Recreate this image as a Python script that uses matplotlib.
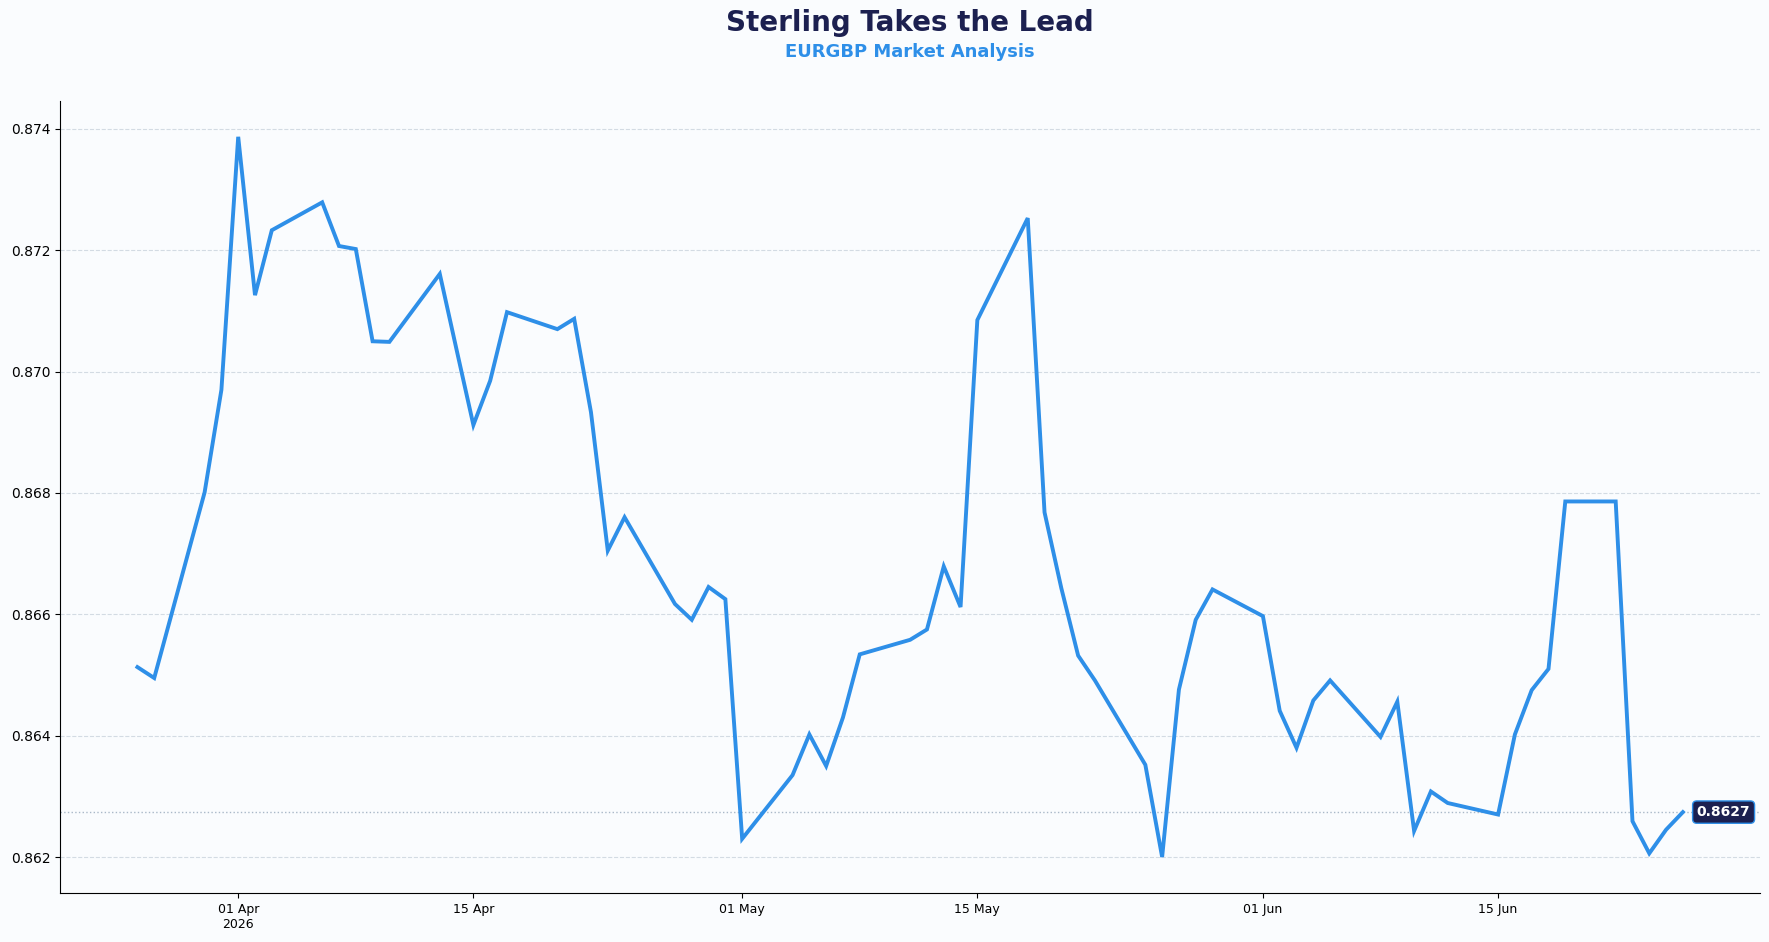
import numpy as np
import pandas as pd
import matplotlib
matplotlib.use('Agg')
import matplotlib.pyplot as plt
import matplotlib.dates as mdates
from matplotlib.ticker import FuncFormatter

#EURGBP daily closes (business days)
dates = ['2026-03-26', '2026-03-27', '2026-03-30', '2026-03-31', '2026-04-01', '2026-04-02', '2026-04-03',
         '2026-04-06', '2026-04-07', '2026-04-08', '2026-04-09', '2026-04-10',
         '2026-04-13', '2026-04-14', '2026-04-15', '2026-04-16', '2026-04-17',
         '2026-04-20', '2026-04-21', '2026-04-22', '2026-04-23', '2026-04-24',
         '2026-04-27', '2026-04-28', '2026-04-29', '2026-04-30', '2026-05-01',
         '2026-05-04', '2026-05-05', '2026-05-06', '2026-05-07', '2026-05-08',
         '2026-05-11', '2026-05-12', '2026-05-13', '2026-05-14', '2026-05-15',
         '2026-05-18', '2026-05-19', '2026-05-20', '2026-05-21', '2026-05-22',
         '2026-05-25', '2026-05-26', '2026-05-27', '2026-05-28', '2026-05-29',
         '2026-06-01', '2026-06-02', '2026-06-03', '2026-06-04', '2026-06-05',
         '2026-06-08', '2026-06-09', '2026-06-10', '2026-06-11', '2026-06-12',
         '2026-06-15', '2026-06-16', '2026-06-17', '2026-06-18', '2026-06-19',
         '2026-06-22', '2026-06-23', '2026-06-24', '2026-06-25', '2026-06-26']
rates = [0.86513, 0.86495, 0.86801, 0.86970, 0.87387, 0.87126, 0.87233,
         0.87279, 0.87207, 0.87202, 0.87050, 0.87049,
         0.87161, 0.87036, 0.86912, 0.86985, 0.87098,
         0.87070, 0.87087, 0.86933, 0.86705, 0.86760,
         0.86617, 0.86591, 0.86645, 0.86625, 0.86230,
         0.86335, 0.86402, 0.86350, 0.86430, 0.86534,
         0.86558, 0.86575, 0.86679, 0.86612, 0.87085,
         0.87253, 0.86768, 0.86643, 0.86532, 0.86491,
         0.86352, 0.86200, 0.86476, 0.86591, 0.86641,
         0.86597, 0.86441, 0.86380, 0.86458, 0.86491,
         0.86398, 0.86456, 0.86243, 0.86308, 0.86289,
         0.86270, 0.86402, 0.86475, 0.86510, 0.86786,
         0.86786, 0.86259, 0.86206, 0.86245, 0.86274]

x = pd.to_datetime(dates)
y = np.array(rates)

bg = '#fafcfe'
navy = '#1c2050'
blue = '#2e8fe8'

fig = plt.figure(figsize=(17.69, 9.42), dpi=100, facecolor=bg)
ax = fig.add_axes([0.034, 0.052, 0.961, 0.841])
ax.set_facecolor(bg)

ax.plot(x, y, color=blue, lw=2.8, solid_joinstyle='miter', zorder=3)

# last value reference line + label
last = y[-1]
ax.axhline(last, color='#a9b8c8', lw=1.0, ls=':', zorder=2)
ax.annotate(f'{last:.4f}', xy=(x[-1], last), xytext=(10, 0), textcoords='offset points',
            ha='left', va='center', color='white', fontsize=10, fontweight='bold',
            bbox=dict(boxstyle='round,pad=0.3', fc=navy, ec=blue, lw=1.0), zorder=5)

ax.grid(axis='y', color='#d3dbe3', ls='--', lw=0.8)
ax.set_axisbelow(True)
for s in ['top', 'right']:
    ax.spines[s].set_visible(False)

ax.set_yticks([0.862, 0.864, 0.866, 0.868, 0.870, 0.872, 0.874])
ax.yaxis.set_major_formatter(FuncFormatter(lambda v, p: f'{v:.3f}'))
ax.tick_params(axis='y', labelsize=10)

ax.xaxis.set_major_locator(mdates.DayLocator(bymonthday=[1, 15]))
def fmt_date(v, pos):
    d = mdates.num2date(v)
    if pos == 0:
        return d.strftime('%d %b\n%Y')
    return d.strftime('%d %b')
ax.xaxis.set_major_formatter(FuncFormatter(fmt_date))
ax.tick_params(axis='x', labelsize=9)

cx = 0.034 + 0.961 / 2
fig.text(cx, 0.976, 'Sterling Takes the Lead', ha='center', va='center',
         fontsize=20, fontweight='bold', color=navy)
fig.text(cx, 0.945, 'EURGBP Market Analysis', ha='center', va='center',
         fontsize=13, fontweight='bold', color=blue)

plt.savefig('out.png', dpi=100, facecolor=bg)
